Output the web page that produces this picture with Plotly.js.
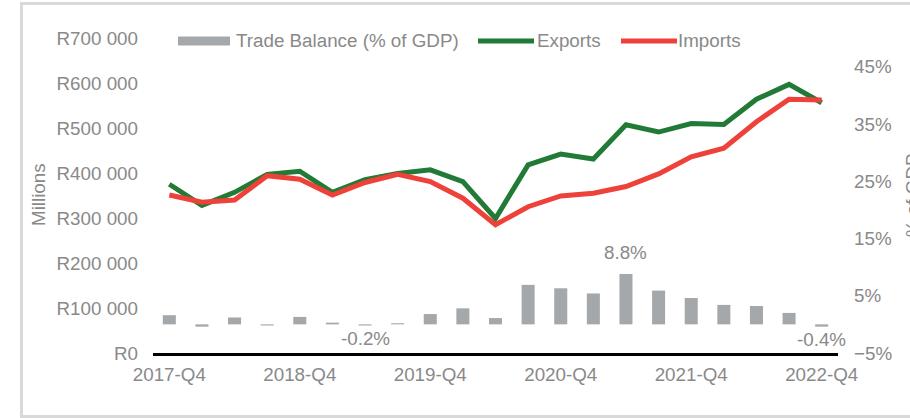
<!DOCTYPE html>
<html>
<head>
<meta charset="utf-8">
<script src="https://cdn.plot.ly/plotly-3.0.1.min.js"></script>
<style>
  html, body { margin: 0; padding: 0; background: #ffffff; }
  #chart { width: 910px; height: 418px; }
</style>
</head>
<body>
<div id="chart"></div>
<script>
// ---- data ----
const quarters = [
  "2017-Q4", "2018-Q1", "2018-Q2", "2018-Q3", "2018-Q4",
  "2019-Q1", "2019-Q2", "2019-Q3", "2019-Q4",
  "2020-Q1", "2020-Q2", "2020-Q3", "2020-Q4",
  "2021-Q1", "2021-Q2", "2021-Q3", "2021-Q4",
  "2022-Q1", "2022-Q2", "2022-Q3", "2022-Q4"
];
const exportsR = [375000, 328000, 357000, 397000, 404000, 357000, 385000, 399000, 407000, 381000, 299000,
                  418000, 442000, 431000, 507000, 491000, 510000, 508000, 564000, 597000, 556000];
const importsR = [351000, 335000, 340000, 394000, 386000, 351000, 379000, 397000, 381000, 344000, 285000,
                  325000, 349000, 355000, 370000, 398000, 436000, 455000, 514000, 564000, 562000];
const tradeBalancePct = [1.6, -0.4, 1.2, -0.2, 1.3, 0.3, -0.2, 0.2, 1.8, 2.8, 1.1,
                         6.9, 6.3, 5.4, 8.8, 5.9, 4.6, 3.4, 3.2, 2.0, -0.4];
const labelledBars = [6, 14, 20];
const xTickLabels = ["2017-Q4", "2018-Q4", "2019-Q4", "2020-Q4", "2021-Q4", "2022-Q4"];
const seriesNames = ["Trade Balance (% of GDP)", "Exports", "Imports"];

// ---- styling ----
const FONT = "Liberation Sans, Arial, sans-serif";
const FS = 18.8;
const TXT = "#898989";
const GREY = "#a5a8aa";
const GREEN = "#217a36";
const RED = "#ee413a";

const M = { l: 153, r: 72, t: 38, b: 65 };
const PW = 910 - M.l - M.r, PH = 418 - M.t - M.b;
const px = p => (p - M.l) / PW;
const py = p => (418 - M.b - p) / PH;

const traces = [
  { type: "bar", name: seriesNames[0], x: quarters, y: tradeBalancePct, yaxis: "y2",
    marker: { color: GREY }, hoverinfo: "skip" },
  { type: "scatter", mode: "lines", name: seriesNames[1], x: quarters, y: exportsR,
    line: { color: GREEN, width: 5 } },
  { type: "scatter", mode: "lines", name: seriesNames[2], x: quarters, y: importsR,
    line: { color: RED, width: 5 } }
];

const annotations = [];
labelledBars.forEach(i => {
  const v = tradeBalancePct[i];
  annotations.push({
    xref: "x", yref: "y2", x: quarters[i], y: v,
    text: v.toFixed(1) + "%", showarrow: false,
    xanchor: "center", yanchor: "middle", yshift: v >= 0 ? 21 : -13,
    font: { family: FONT, size: FS, color: TXT }
  });
});
// axis titles
annotations.push({ xref: "paper", yref: "paper", x: px(38), y: py(195), text: "Millions",
  xanchor: "center", yanchor: "middle",
  textangle: -90, showarrow: false, font: { family: FONT, size: FS, color: TXT } });
annotations.push({ xref: "paper", yref: "paper", x: px(912), y: py(195), text: "% of GDP",
  xanchor: "center", yanchor: "middle",
  textangle: -90, showarrow: false, font: { family: FONT, size: FS, color: TXT } });

// custom legend
const legendY = py(41);
const legendItems = [
  { x0: 178, x1: 230, tx: 234, kind: "rect", color: GREY },
  { x0: 478, x1: 534, tx: 535, kind: "line", color: GREEN },
  { x0: 621, x1: 677, tx: 676, kind: "line", color: RED }
];
const shapes = [
  // outer frame
  { type: "rect", xref: "paper", yref: "paper", x0: px(21.5), x1: px(925), y0: py(416.5), y1: py(3.5),
    line: { color: "#d9d9d9", width: 3 }, fillcolor: "rgba(0,0,0,0)", layer: "below" }
];
legendItems.forEach((it, k) => {
  if (it.kind === "rect") {
    shapes.push({ type: "rect", xref: "paper", yref: "paper", x0: px(it.x0), x1: px(it.x1),
      y0: py(45.5), y1: py(36.5), line: { width: 0 }, fillcolor: it.color });
  } else {
    shapes.push({ type: "line", xref: "paper", yref: "paper", x0: px(it.x0), x1: px(it.x1),
      y0: legendY, y1: legendY, line: { color: it.color, width: 5 } });
  }
  annotations.push({ xref: "paper", yref: "paper", x: px(it.tx), y: legendY, xanchor: "left",
    yanchor: "middle", text: seriesNames[k], showarrow: false,
    font: { family: FONT, size: FS, color: TXT } });
});

const layout = {
  width: 910, height: 418,
  margin: M,
  paper_bgcolor: "#ffffff", plot_bgcolor: "#ffffff",
  showlegend: false,
  separators: ". ",
  bargap: 0.6,
  font: { family: FONT, size: FS, color: TXT },
  xaxis: {
    type: "category", range: [-0.5, 20.5],
    tickmode: "array", tickvals: xTickLabels, ticktext: xTickLabels,
    showline: true, linecolor: "#000000", linewidth: 2.5,
    showgrid: false, zeroline: false, ticks: "",
    ticklabelstandoff: 3,
    tickfont: { family: FONT, size: FS, color: TXT }
  },
  yaxis: {
    range: [0, 700000], tick0: 0, dtick: 100000,
    tickprefix: "R", tickformat: ",d",
    showgrid: false, zeroline: false, showline: false, ticks: "",
    ticklabelstandoff: 14,
    tickfont: { family: FONT, size: FS, color: TXT }
  },
  yaxis2: {
    overlaying: "y", side: "right",
    range: [-5, 50], tick0: -5, dtick: 10, ticksuffix: "%",
    showgrid: false, zeroline: false, showline: false, ticks: "",
    ticklabelstandoff: 15,
    tickfont: { family: FONT, size: FS, color: TXT }
  },
  shapes: shapes,
  annotations: annotations
};

Plotly.newPlot("chart", traces, layout, { displayModeBar: false, staticPlot: true });
</script>
</body>
</html>
